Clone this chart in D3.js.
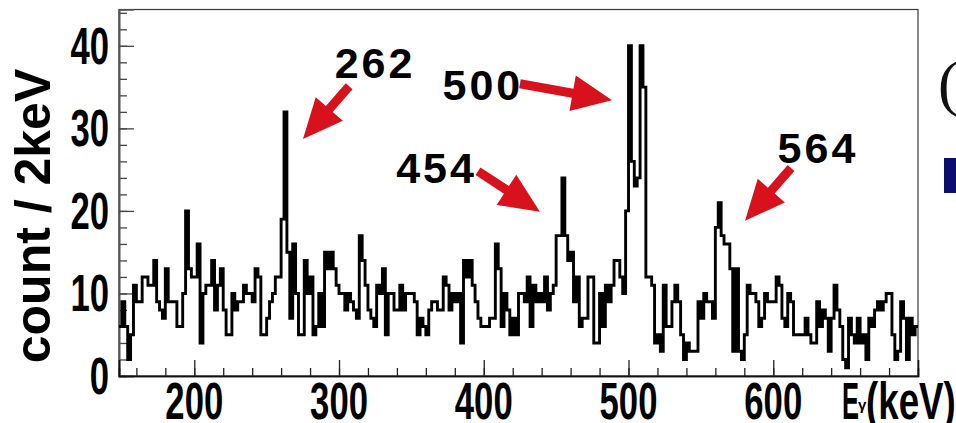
<!DOCTYPE html>
<html>
<head>
<meta charset="utf-8">
<script src="https://cdn.jsdelivr.net/npm/d3@7"></script>
<style>
  html, body { margin: 0; padding: 0; background: #fff; }
  svg { display: block; }
</style>
</head>
<body>
<svg id="chart" width="956" height="423"></svg>
<script>
// Gamma-ray energy spectrum, 2 keV per bin starting at 148 keV
const binLow = 148;
const binWidth = 2;
const counts = [
  // 148 - 216 keV
  6, 9, 6, 2, 5, 11, 9, 9, 12, 12, 11, 11, 14, 9, 8, 7, 13, 9, 9, 9,
  6, 6, 10, 20, 13, 12, 12, 16, 4, 10, 11, 11, 14, 8, 11,
  // 218 - 282 keV
  13, 8, 5, 5, 10, 8, 9, 9, 11, 10, 10, 9, 13, 12, 5, 5, 7, 9, 10, 12,
  12, 19, 32, 15, 7, 16, 10, 5, 5, 14, 10, 12, 5,
  // 284 - 354 keV
  6, 10, 6, 15, 13, 15, 13, 11, 10, 10, 8, 10, 9, 8, 7, 17, 14, 11, 8, 7,
  6, 11, 10, 13, 5, 10, 10, 8, 8, 11, 8, 10, 10, 10, 9, 5,
  // 356 - 422 keV
  7, 6, 5, 8, 9, 9, 8, 8, 12, 11, 8, 10, 9, 10, 4, 14, 12, 14, 11, 9,
  7, 6, 6, 6, 7, 7, 16, 13, 6, 10, 8, 5, 7, 5,
  // 424 - 490 keV
  10, 10, 9, 12, 6, 11, 9, 10, 9, 12, 8, 10, 11, 17, 17, 24, 17, 14, 15, 9,
  12, 6, 7, 7, 12, 12, 4, 4, 10, 6, 11, 9, 11, 14,
  // 492 - 558 keV
  14, 12, 10, 20, 40, 26, 23, 24, 40, 35, 12, 12, 11, 4, 5, 3, 11, 6, 6, 9,
  11, 9, 5, 2, 4, 3, 3, 3, 9, 7, 10, 9, 9, 7,
  // 560 - 628 keV
  18, 21, 17, 16, 16, 13, 3, 13, 3, 2, 5, 11, 10, 10, 9, 6, 7, 10, 9, 9,
  9, 12, 11, 7, 6, 10, 9, 5, 5, 5, 5, 7, 5, 4, 4,
  // 630 - 698 keV
  9, 6, 8, 7, 3, 7, 11, 8, 6, 2, 1, 7, 5, 4, 7, 4, 5, 2, 7, 6,
  8, 9, 8, 9, 10, 10, 5, 2, 3, 9, 7, 2, 7, 5, 6
];

const xTicks = [200, 300, 400, 500, 600];
const yTicks = [0, 10, 20, 30, 40];

// Peak annotations: label text, label anchor and arrow (energy keV, counts)
const peakLabels = ["262", "500", "454", "564"];
const labelE = [297, 371.5, 339.5, 603];
const labelC = [36.1, 33.4, 23.4, 25.8];
const arrowTailE = [307, 425, 396, 612.3];
const arrowTailC = [35.1, 35.4, 24.8, 25.2];
const arrowTipE = [275.1, 488.6, 438.8, 580.5];
const arrowTipC = [28.7, 33.4, 19.9, 18.8];

const svg = d3.select("#chart");
svg.append("rect").attr("width", 956).attr("height", 423).attr("fill", "#fff");

const xMax = binLow + binWidth * counts.length;
const x = d3.scaleLinear().domain([binLow, xMax]).range([119, 918]);
const y = d3.scaleLinear().domain([0, 44.4]).range([376, 9.5]);

const [x0, x1] = x.range();
const [yb, yt] = y.range();

// frame
svg.append("rect")
  .attr("x", x0).attr("y", yt)
  .attr("width", x1 - x0).attr("height", yb - yt)
  .attr("fill", "none").attr("stroke", "#3a3a3a").attr("stroke-width", 1.2);

// inward ticks via d3 axes
const yMinor = d3.range(0, 44.01, 2);
const xMinor = d3.range(160, 700, 20);

const leftMinor = svg.append("g").attr("transform", `translate(${x0},0)`)
  .call(d3.axisLeft(y).tickValues(yMinor).tickSize(-8).tickFormat(""));
const leftMajor = svg.append("g").attr("transform", `translate(${x0},0)`)
  .call(d3.axisLeft(y).tickValues(yTicks).tickSize(-15).tickFormat(""));
const botMinor = svg.append("g").attr("transform", `translate(0,${yb})`)
  .call(d3.axisBottom(x).tickValues(xMinor).tickSize(-8).tickFormat(""));
const botMajor = svg.append("g").attr("transform", `translate(0,${yb})`)
  .call(d3.axisBottom(x).tickValues(xTicks).tickSize(-16).tickFormat(""));

[leftMinor, leftMajor].forEach(g => {
  g.select(".domain").attr("stroke", "#555").attr("stroke-width", 1.6);
  g.selectAll(".tick line").attr("stroke", "#444").attr("stroke-width", 1.3);
});
[botMinor, botMajor].forEach(g => {
  g.select(".domain").attr("stroke", "#111").attr("stroke-width", 1.6);
  g.selectAll(".tick line").attr("stroke", "#222").attr("stroke-width", 1.3);
});

// condensed bold tick labels
const labelFont = "'Liberation Sans', Arial, Helvetica, sans-serif";
svg.append("g").selectAll("text").data(xTicks).join("text")
  .attr("transform", d => `translate(${x(d)},419) scale(0.68,1)`)
  .attr("text-anchor", "middle")
  .attr("font-family", labelFont).attr("font-weight", "bold")
  .attr("font-size", 51).attr("fill", "#000")
  .text(d => d);

svg.append("g").selectAll("text").data(yTicks).join("text")
  .attr("transform", d => `translate(109,${y(d) + 18}) scale(0.68,1)`)
  .attr("text-anchor", "end")
  .attr("font-family", labelFont).attr("font-weight", "bold")
  .attr("font-size", 51).attr("fill", "#000")
  .text(d => d);

// axis titles
svg.append("text")
  .attr("transform", "translate(50,216) rotate(-90)")
  .attr("text-anchor", "middle")
  .attr("font-family", labelFont).attr("font-weight", "bold")
  .attr("font-size", 50).attr("fill", "#000")
  .text("count / 2keV");

const xt = svg.append("g").attr("font-family", labelFont).attr("font-weight", "bold").attr("fill", "#000");
xt.append("text").attr("transform", "translate(842,419) scale(0.5,1)")
  .attr("font-size", 51).text("E");
xt.append("text").attr("x", 858).attr("y", 410)
  .attr("font-size", 15).text("γ");
xt.append("text").attr("transform", "translate(866,419) scale(0.72,1)")
  .attr("font-size", 51).text("(keV)");

// histogram as a step outline
const pts = counts.map((c, i) => [binLow + i * binWidth, c]);
pts.push([xMax, counts[counts.length - 1]]);
const step = d3.line().x(d => x(d[0])).y(d => y(d[1])).curve(d3.curveStepAfter);
svg.append("path")
  .attr("d", step(pts))
  .attr("fill", "none").attr("stroke", "#000")
  .attr("stroke-width", 2.9).attr("stroke-linejoin", "miter");

// red block arrows pointing at peaks
function arrowPoints(ax, ay, bx, by, shaftW, headL, headW) {
  const dx = bx - ax, dy = by - ay, L = Math.hypot(dx, dy);
  const ux = dx / L, uy = dy / L, px = -uy, py = ux;
  const hx = bx - ux * headL, hy = by - uy * headL;
  return [
    [ax + px * shaftW / 2, ay + py * shaftW / 2],
    [hx + px * shaftW / 2, hy + py * shaftW / 2],
    [hx + px * headW / 2, hy + py * headW / 2],
    [bx, by],
    [hx - px * headW / 2, hy - py * headW / 2],
    [hx - px * shaftW / 2, hy - py * shaftW / 2],
    [ax - px * shaftW / 2, ay - py * shaftW / 2]
  ];
}
svg.append("g").selectAll("polygon").data(peakLabels).join("polygon")
  .attr("points", (d, i) => arrowPoints(
      x(arrowTailE[i]), y(arrowTailC[i]), x(arrowTipE[i]), y(arrowTipC[i]), 9, 40, 36)
    .map(p => p.join(",")).join(" "))
  .attr("fill", "#d8121c");

svg.append("g").selectAll("text").data(peakLabels).join("text")
  .attr("x", (d, i) => x(labelE[i]))
  .attr("y", (d, i) => y(labelC[i]))
  .attr("font-family", labelFont).attr("font-weight", "bold")
  .attr("font-size", 43).attr("letter-spacing", 3).attr("fill", "#000")
  .text(d => d);

// fragments at the right edge of the canvas
svg.append("text").attr("x", 938).attr("y", 104)
  .attr("font-family", "'Liberation Serif', 'Times New Roman', serif")
  .attr("font-size", 62).attr("fill", "#111").text("(");
svg.append("rect").attr("x", 944).attr("y", 158).attr("width", 12).attr("height", 35)
  .attr("fill", "#0d0d6e");
</script>
</body>
</html>
